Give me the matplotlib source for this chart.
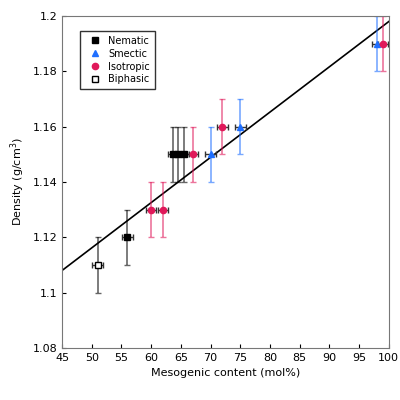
import matplotlib
matplotlib.use("Agg")
import matplotlib.pyplot as plt

# data
nem_x = [56, 63.7, 64.6, 65.5]
nem_y = [1.12, 1.15, 1.15, 1.15]
sme_x = [70, 75, 98]
sme_y = [1.15, 1.16, 1.19]
iso_x = [60, 62, 67, 72, 99]
iso_y = [1.13, 1.13, 1.15, 1.16, 1.19]
bip_x = [51]
bip_y = [1.11]
fit_x = [45, 100]
fit_y = [1.108, 1.198]

yerr = 0.01
xerr = 0.9

fig, ax = plt.subplots(figsize=(4, 4), dpi=100)

def draw(x, y, color, marker, mfc, label):
    ax.errorbar(x, y, yerr=yerr, fmt='none', ecolor=color, elinewidth=1.2,
                capsize=2.5, alpha=0.6, zorder=2)
    ax.errorbar(x, y, xerr=xerr, fmt='none', ecolor='#333333', elinewidth=1.0,
                capsize=2, zorder=2)
    ax.plot(x, y, linestyle='none', marker=marker, color=color, mfc=mfc,
            markersize=4.5, label=label, zorder=3)

draw(nem_x, nem_y, 'black', 's', 'black', 'Nematic')
draw(sme_x, sme_y, '#1f6fff', '^', '#1f6fff', 'Smectic')
draw(iso_x, iso_y, '#e0195a', 'o', '#e0195a', 'Isotropic')
draw(bip_x, bip_y, 'black', 's', 'white', 'Biphasic')

ax.plot(fit_x, fit_y, color='black', linewidth=1.2, zorder=1)

ax.set_xlim(45, 100)
ax.set_ylim(1.08, 1.2)
ax.set_xticks(range(45, 101, 5))
ax.set_yticks([1.08, 1.1, 1.12, 1.14, 1.16, 1.18, 1.2])
ax.set_yticklabels(['1.08', '1.1', '1.12', '1.14', '1.16', '1.18', '1.2'])
ax.tick_params(labelsize=8, direction='in', length=3)
ax.set_xlabel('Mesogenic content (mol%)', fontsize=8)
ax.set_ylabel('Density (g/cm$^3$)', fontsize=8)
for s in ax.spines.values():
    s.set_color('#777777')

leg = ax.legend(loc='upper left', fontsize=7, frameon=True, fancybox=False,
                edgecolor='black', handletextpad=0.4, borderpad=0.5,
                labelspacing=0.3, bbox_to_anchor=(0.04, 0.97))

fig.subplots_adjust(left=0.155, right=0.972, top=0.96, bottom=0.13)
fig.savefig('out.png', dpi=100)
